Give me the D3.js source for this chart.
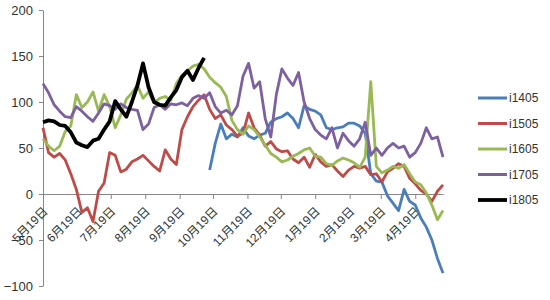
<!DOCTYPE html>
<html>
<head>
<meta charset="utf-8">
<script src="https://cdn.jsdelivr.net/npm/d3@7"></script>
<style>
body { margin: 0; background: #fff; }
text { font-family: "Liberation Sans", Arial, "Noto Sans CJK SC", sans-serif; fill: #333; }
</style>
</head>
<body>
<div id="chart"></div>
<script>
// Data (one value every 5 days, starting 5月19日)
var seriesNames = ["i1405", "i1505", "i1605", "i1705", "i1805"];
var seriesColors = ["#4a7ebb", "#be4b48", "#98b954", "#7d60a0", "#000000"];
var seriesStart = [30, 0, 0, 0, 0]; // step index of first value
var stepDays = 5;
var yTicks = [-100, -50, 0, 50, 100, 150, 200];
var tickLabels = ["5月19日", "6月19日", "7月19日", "8月19日", "9月19日", "10月19日",
                  "11月19日", "12月19日", "1月19日", "2月19日", "3月19日", "4月19日"];

var i1405 = [26, 55, 76, 60, 65, 62, 72, 63, 60, 64, 66, 78, 82, 84, 88, 82, 72, 96, 92, 90,
             86, 72, 70, 72, 73, 77, 77, 74, 66, 22, 14, 13, -2, -10, -18, 5, -8, -12, -26, -36,
             -50, -70, -86];
var i1505 = [72, 45, 40, 44, 37, 22, 5, -20, -15, -30, 3, 12, 45, 42, 24, 27, 35, 38, 42, 36,
             30, 25, 48, 38, 32, 70, 84, 95, 102, 108, 92, 82, 86, 75, 70, 63, 66, 88, 72, 64,
             52, 57, 49, 46, 47, 38, 34, 40, 29, 43, 35, 30, 32, 25, 19, 26, 30, 28, 30, 21,
             22, 13, 24, 28, 33, 30, 17, 11, 4, 0, -8, 3, 10];
var i1605 = [60, 52, 47, 52, 68, 74, 108, 94, 100, 111, 90, 108, 95, 72, 86, 103, 110, 118, 104, 111,
             99, 104, 106, 102, 120, 129, 134, 139, 141, 136, 127, 121, 116, 106, 80, 70, 65, 74, 70, 62,
             53, 44, 40, 35, 37, 41, 44, 48, 50, 41, 40, 33, 31, 36, 39, 37, 34, 29, 40, 122,
             30, 23, 26, 30, 28, 32, 22, 13, 10, 1, -12, -28, -18];
var i1705 = [120, 110, 97, 90, 84, 83, 95, 90, 84, 79, 88, 98, 96, 92, 98, 94, 92, 91, 70, 76,
             94, 97, 92, 98, 97, 99, 96, 104, 107, 104, 110, 95, 88, 91, 86, 96, 128, 142, 115, 122,
             82, 62, 108, 136, 126, 118, 132, 100, 82, 70, 64, 60, 72, 50, 66, 58, 52, 60, 78, 42,
             50, 42, 50, 55, 50, 52, 40, 45, 55, 72, 60, 62, 40];
var i1805 = [78, 80, 79, 75, 74, 67, 56, 53, 51, 58, 60, 70, 79, 101, 92, 84, 100, 118, 142, 116,
             100, 97, 96, 105, 113, 127, 134, 124, 137, 148];
var seriesValues = [i1405, i1505, i1605, i1705, i1805];

var width = 550, height = 300;
var startDate = new Date(2013, 4, 19);
var endDate = d3.timeDay.offset(startDate, 72 * stepDays);

var svg = d3.select("#chart").append("svg")
    .attr("width", width)
    .attr("height", height);

var x = d3.scaleTime().domain([startDate, endDate]).range([43, 443]);
var y = d3.scaleLinear().domain([-100, 200]).range([286, 10]);

// Y axis
var yAxis = d3.axisLeft(y).tickValues(yTicks).tickSize(4).tickSizeOuter(0).tickPadding(6);
var gy = svg.append("g").attr("transform", "translate(43,0)").call(yAxis);
gy.select(".domain").attr("stroke", "#868686");
gy.selectAll(".tick line").attr("stroke", "#868686");
gy.selectAll("text").style("font-size", "13px").attr("fill", "#333");

// X axis at zero
var tickDates = tickLabels.map(function(d, i){ return new Date(2013, 4 + i, 19); });
var xAxis = d3.axisBottom(x).tickValues(tickDates).tickSize(5).tickSizeOuter(0)
    .tickFormat(function(d, i){ return tickLabels[i]; });
var gx = svg.append("g").attr("transform", "translate(0," + y(0) + ")").call(xAxis);
gx.select(".domain").attr("stroke", "#868686");
gx.selectAll(".tick line").attr("stroke", "#868686");
gx.selectAll("text")
    .style("font-size", "12px")
    .attr("fill", "#333")
    .attr("text-anchor", "end")
    .attr("x", 0).attr("y", 0).attr("dy", "0.35em")
    .attr("transform", "translate(2,15) rotate(-45)");

// Lines
var line = d3.line()
    .x(function(d){ return x(d.date); })
    .y(function(d){ return y(d.value); });

seriesNames.forEach(function(name, s){
    var pts = seriesValues[s].map(function(v, i){
        return { date: d3.timeDay.offset(startDate, (seriesStart[s] + i) * stepDays), value: v };
    });
    svg.append("path")
        .datum(pts)
        .attr("fill", "none")
        .attr("stroke", seriesColors[s])
        .attr("stroke-width", name === "i1805" ? 3.8 : 2.8)
        .attr("stroke-linejoin", "round")
        .attr("d", line);
});

// Legend
var legend = svg.append("g").attr("transform", "translate(478,98)");
seriesNames.forEach(function(name, s){
    var g = legend.append("g").attr("transform", "translate(0," + (s * 25.5) + ")");
    g.append("line").attr("x1", 0).attr("x2", 29).attr("y1", 0).attr("y2", 0)
        .attr("stroke", seriesColors[s]).attr("stroke-width", name === "i1805" ? 3.8 : 3);
    g.append("text").attr("x", 31).attr("dy", "0.35em").style("font-size", "12px").text(name);
});
</script>
</body>
</html>
